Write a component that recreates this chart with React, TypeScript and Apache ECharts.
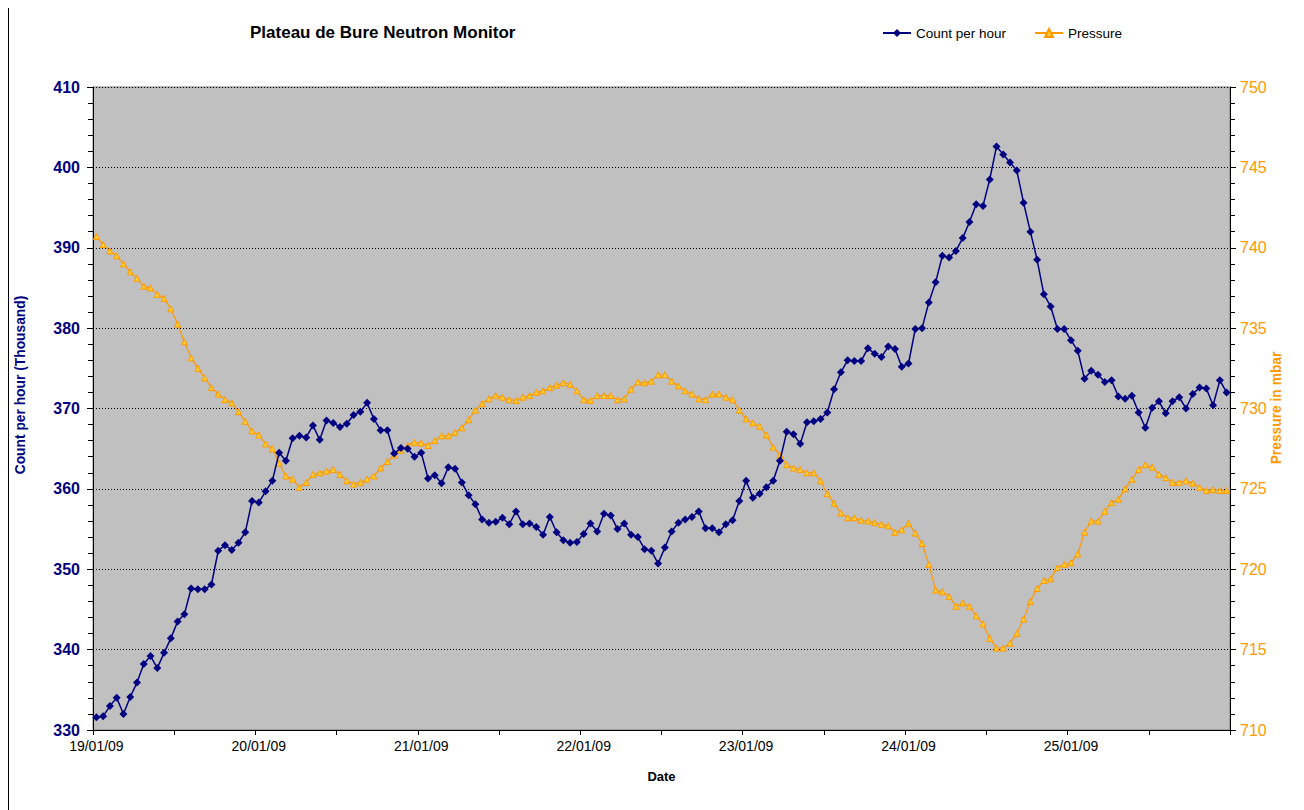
import React, { useEffect, useRef } from "react";
import * as echarts from "echarts";

const days = ["19/01/09", "20/01/09", "21/01/09", "22/01/09", "23/01/09", "24/01/09", "25/01/09"];
const hoursPerDay = 24;

const countPerHour = [
  331.6, 331.7, 333.0, 334.0, 332.0, 334.1, 335.9, 338.2, 339.2, 337.7, 339.6, 341.4, 343.5, 344.4, 347.6, 347.5, 347.5, 348.1, 352.3, 353.0, 352.4, 353.3, 354.6, 358.5,
  358.3, 359.7, 361.0, 364.5, 363.5, 366.3, 366.6, 366.4, 367.9, 366.1, 368.5, 368.2, 367.7, 368.1, 369.2, 369.6, 370.7, 368.7, 367.3, 367.3, 364.4, 365.1, 365.0, 364.0,
  364.5, 361.3, 361.7, 360.7, 362.7, 362.5, 360.8, 359.2, 358.1, 356.2, 355.8, 355.9, 356.4, 355.6, 357.2, 355.6, 355.7, 355.25, 354.3, 356.5, 354.6, 353.6, 353.3, 353.4,
  354.4, 355.7, 354.7, 356.9, 356.7, 355.0, 355.7, 354.3, 354.0, 352.5, 352.3, 350.7, 352.7, 354.7, 355.8, 356.2, 356.5, 357.2, 355.1, 355.1, 354.6, 355.6, 356.1, 358.5,
  361.0, 358.9, 359.4, 360.2, 361.0, 363.5, 367.1, 366.8, 365.6, 368.3, 368.4, 368.7, 369.5, 372.4, 374.5, 376.0, 375.9, 375.9, 377.5, 376.8, 376.4, 377.7, 377.4, 375.2,
  375.6, 379.9, 380.0, 383.2, 385.7, 389.0, 388.8, 389.6, 391.2, 393.2, 395.4, 395.2, 398.5, 402.6, 401.6, 400.6, 399.6, 395.6, 392.0, 388.5, 384.2, 382.7, 379.9, 379.9,
  378.5, 377.2, 373.7, 374.7, 374.2, 373.3, 373.5, 371.5, 371.2, 371.6, 369.5, 367.6, 370.1, 370.9, 369.4, 370.9, 371.4, 370.0, 371.8, 372.6, 372.5, 370.4, 373.5, 372.0,
];

const pressure = [
  740.7, 740.2, 739.8, 739.5, 739.0, 738.5, 738.1, 737.6, 737.5, 737.1, 736.85, 736.2, 735.25, 734.15, 733.15, 732.5, 731.9, 731.3, 730.9, 730.55, 730.35, 729.8, 729.2, 728.6,
  728.35, 727.8, 727.5, 726.6, 725.8, 725.6, 725.1, 725.4, 725.9, 726.0, 726.1, 726.2, 725.9, 725.5, 725.3, 725.4, 725.6, 725.8, 726.3, 726.7, 727.1, 727.4, 727.7, 727.9,
  727.85, 727.7, 728.0, 728.3, 728.3, 728.5, 728.8, 729.3, 729.9, 730.3, 730.6, 730.8, 730.7, 730.55, 730.5, 730.7, 730.8, 731.0, 731.1, 731.3, 731.45, 731.6, 731.5, 731.1,
  730.55, 730.5, 730.8, 730.8, 730.8, 730.55, 730.6, 731.2, 731.65, 731.6, 731.7, 732.1, 732.1, 731.7, 731.4, 731.1, 730.9, 730.6, 730.55, 730.9, 730.9, 730.7, 730.55, 729.9,
  729.35, 729.1, 728.9, 728.35, 727.6, 727.1, 726.5, 726.3, 726.2, 726.0, 726.0, 725.5, 724.7, 724.1, 723.5, 723.2, 723.2, 723.05, 723.0, 722.9, 722.8, 722.7, 722.3, 722.45,
  722.85, 722.25, 721.6, 720.3, 718.7, 718.6, 718.3, 717.7, 717.9, 717.7, 717.1, 716.6, 715.7, 715.1, 715.1, 715.4, 716.0, 716.9, 718.0, 718.8, 719.3, 719.4, 720.1, 720.3,
  720.4, 720.95, 722.3, 723.0, 723.0, 723.6, 724.15, 724.35, 725.0, 725.6, 726.2, 726.5, 726.35, 725.9, 725.7, 725.4, 725.4, 725.5, 725.35, 725.1, 724.9, 724.95, 724.9, 724.9,
];

const categories: string[] = [];
days.forEach((d) => {
  for (let h = 0; h < hoursPerDay; h++) categories.push(d + " " + String(h).padStart(2, "0") + "h");
});

const FONT = "'Liberation Sans', Arial, sans-serif";
const NAVY = "#000080";
const ORANGE = "#FF9900";

export default function App() {
  const ref = useRef<HTMLDivElement>(null);
  useEffect(() => {
    if (!ref.current) return;
    const chart = echarts.init(ref.current, undefined, { renderer: "svg" });
    chart.setOption({
      animation: false,
      backgroundColor: "#ffffff",
      textStyle: { fontFamily: FONT },
      title: {
        text: "Plateau de Bure Neutron Monitor",
        left: 242,
        top: 16,
        padding: 0,
        textStyle: { fontFamily: FONT, fontSize: 17, fontWeight: "bold", color: "#000" },
      },
      legend: {
        left: 874,
        top: 18,
        padding: 0,
        itemWidth: 28,
        itemHeight: 10,
        itemGap: 28,
        textStyle: { fontFamily: FONT, fontSize: 13.5, color: "#000" },
        data: ["Count per hour", "Pressure"],
      },
      grid: {
        left: 85,
        right: 74,
        top: 79,
        bottom: 80,
        show: true,
        backgroundColor: "#C0C0C0",
        borderColor: "#808080",
        borderWidth: 1,
      },
      graphic: [
        {
          type: "line",
          shape: { x1: 0.5, y1: 0, x2: 0.5, y2: 802 },
          style: { stroke: "#000", lineWidth: 1 },
        },
        {
          type: "text",
          x: 12,
          y: 377,
          rotation: Math.PI / 2,
          style: {
            text: "Count per hour (Thousand)",
            fontFamily: FONT,
            fontSize: 13.8,
            fontWeight: "bold",
            fill: NAVY,
            align: "center",
            verticalAlign: "middle",
          },
        },
        {
          type: "text",
          x: 1268,
          y: 400,
          rotation: Math.PI / 2,
          style: {
            text: "Pressure in mbar",
            fontFamily: FONT,
            fontSize: 13.8,
            fontWeight: "bold",
            fill: ORANGE,
            align: "center",
            verticalAlign: "middle",
          },
        },
      ],
      xAxis: {
        type: "category",
        data: categories,
        boundaryGap: true,
        name: "Date",
        nameLocation: "middle",
        nameGap: 40,
        nameTextStyle: { fontFamily: FONT, fontSize: 13, fontWeight: "bold", color: "#000" },
        axisLine: { lineStyle: { color: "#000", width: 1 } },
        axisTick: { show: true, interval: 11, length: 5, lineStyle: { color: "#000" } },
        axisLabel: {
          interval: 23,
          margin: 9,
          fontFamily: FONT,
          fontSize: 14,
          color: "#000",
          formatter: (v: string) => v.split(" ")[0],
        },
        splitLine: { show: false },
      },
      yAxis: [
        {
          type: "value",
          min: 330,
          max: 410,
          interval: 10,
          position: "left",
          axisLine: { show: true, lineStyle: { color: "#000" } },
          axisTick: { show: true, length: 6, lineStyle: { color: "#000" } },
          minorTick: { show: true, splitNumber: 5, length: 5, lineStyle: { color: "#000" } },
          axisLabel: { fontFamily: FONT, fontSize: 16, fontWeight: "bold", color: NAVY, margin: 13 },
          splitLine: { show: true, lineStyle: { color: "#000", type: [1, 2], width: 1 } },
        },
        {
          type: "value",
          min: 710,
          max: 750,
          interval: 5,
          position: "right",
          axisLine: { show: true, lineStyle: { color: "#000" } },
          axisTick: { show: true, length: 6, lineStyle: { color: "#000" } },
          minorTick: { show: true, splitNumber: 5, length: 5, lineStyle: { color: "#000" } },
          axisLabel: { fontFamily: FONT, fontSize: 16, color: ORANGE, margin: 10 },
          splitLine: { show: false },
        },
      ],
      series: [
        {
          name: "Count per hour",
          type: "line",
          yAxisIndex: 0,
          data: countPerHour,
          symbol: "diamond",
          symbolSize: 8,
          showAllSymbol: true,
          lineStyle: { color: NAVY, width: 1.5 },
          itemStyle: { color: NAVY },
          z: 3,
        },
        {
          name: "Pressure",
          type: "line",
          yAxisIndex: 1,
          data: pressure,
          symbol: "triangle",
          symbolSize: 6,
          showAllSymbol: true,
          lineStyle: { color: ORANGE, width: 1.2 },
          itemStyle: { color: "#FFCC33", borderColor: ORANGE, borderWidth: 1 },
          z: 2,
        },
      ],
    });
    return () => chart.dispose();
  }, []);
  return <div ref={ref} style={{ width: 1296, height: 802 }} />;
}
